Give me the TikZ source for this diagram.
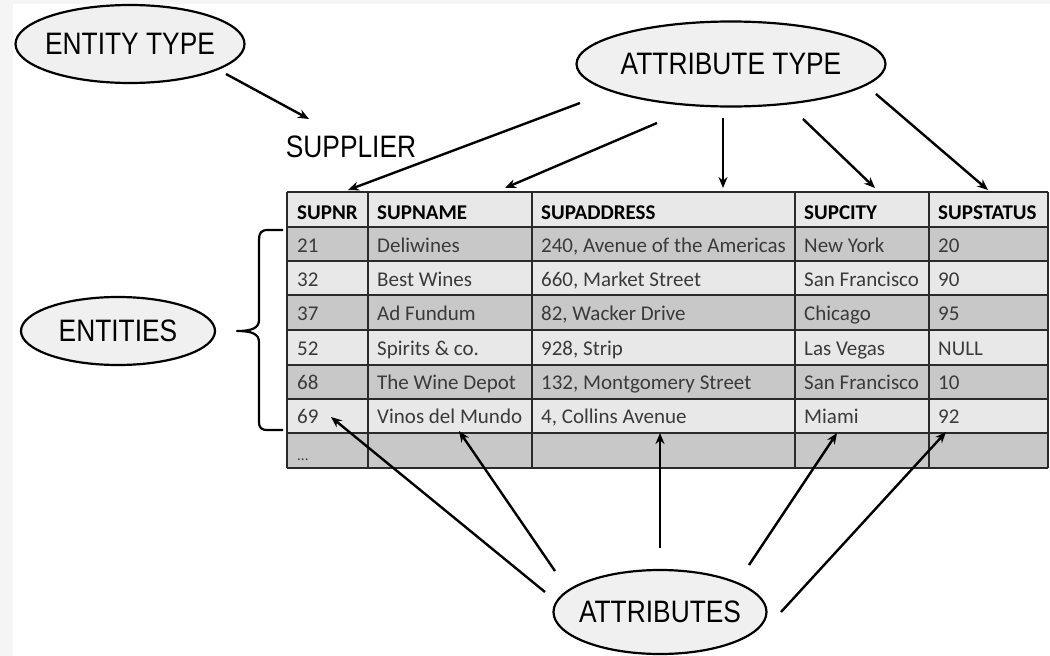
\documentclass[tikz,border=0pt]{standalone}
\usepackage{fontspec}
\setmainfont{Carlito}
\newfontfamily\labelfont[FakeStretch=0.85]{Liberation Sans}
\usetikzlibrary{shapes.geometric,arrows.meta}

\definecolor{bgstrip}{HTML}{F5F5F5}
\definecolor{ovalfill}{HTML}{F0F0F0}
\definecolor{rowdark}{HTML}{C8C8C8}
\definecolor{rowlight}{HTML}{E8E8E8}
\definecolor{cellink}{HTML}{3A3A3A}
\definecolor{gridline}{HTML}{2A2A2A}

\begin{document}
\begin{tikzpicture}[x=1pt,y=-1pt,
  oval/.style={ellipse, draw=black, line width=2.2pt, fill=ovalfill, inner sep=0pt,
               font=\labelfont\fontsize{31}{31}\selectfont},
  plain/.style={inner sep=0pt, font=\labelfont\fontsize{31}{31}\selectfont},
  conn/.style={line width=2.4pt, -{Stealth[length=11pt,width=9pt]}},
  hdr/.style={anchor=base west, inner sep=0pt, text=black,
              font=\bfseries\fontsize{21}{21}\selectfont},
  cell/.style={anchor=base west, inner sep=0pt, text=cellink,
               font=\fontsize{21}{21}\selectfont},
  gridrule/.style={draw=gridline, line width=2pt},
]
\useasboundingbox (0,0) rectangle (1050,656);
\fill[white] (0,0) rectangle (1050,656);
\fill[bgstrip] (0,0) rectangle (1050,4);
\fill[bgstrip] (0,0) rectangle (13,656);

% ---- ellipse labels ----
\node[oval, minimum width=229pt, minimum height=78pt] (entitytype) at (130,44) {\makebox[0pt]{ENTITY TYPE}};
\node[oval, minimum width=309pt, minimum height=85pt] (attrtype) at (731,64) {\makebox[0pt]{ATTRIBUTE TYPE}};
\node[oval, minimum width=194pt, minimum height=68pt] (entities) at (118,331) {\makebox[0pt]{ENTITIES}};
\node[oval, minimum width=213pt, minimum height=84pt] (attributes) at (660,612) {\makebox[0pt]{ATTRIBUTES}};
\node[plain] (supplier) at (351,147) {SUPPLIER};

% ---- table: row shading ----
\fill[rowlight] (287,192) rectangle (1048,227);
\foreach \top/\bot/\col in {227/261/rowdark, 261/295/rowlight, 295/330/rowdark,
                            330/365/rowlight, 365/399/rowdark, 399/433/rowlight,
                            433/468/rowdark}
  \fill[\col] (287,\top) rectangle (1048,\bot);

% ---- table: grid ----
\foreach \y in {192,227,261,295,330,365,399,433,468}
  \draw[gridrule] (287,\y) -- (1048,\y);
\foreach \x in {287,368,532,795,929,1048}
  \draw[gridrule] (\x,192) -- (\x,468);

% ---- table: header ----
\node[hdr] (h-1) at (297,219) {SUPNR};
\node[hdr] (h-2) at (377,219) {SUPNAME};
\node[hdr] (h-3) at (541,219) {SUPADDRESS};
\node[hdr] (h-4) at (804,219) {SUPCITY};
\node[hdr] (h-5) at (938,219) {SUPSTATUS};

% ---- table: records ----
\foreach \r/\ya/\a/\b/\c/\d/\e in {
    1/252/21/Deliwines/{240, Avenue of the Americas}/New York/20,
    2/286/32/Best Wines/{660, Market Street}/San Francisco/90,
    3/320/37/Ad Fundum/{82, Wacker Drive}/Chicago/95,
    4/355/52/Spirits \& co./{928, Strip}/Las Vegas/NULL,
    5/389/68/The Wine Depot/{132, Montgomery Street}/San Francisco/10,
    6/423/69/Vinos del Mundo/{4, Collins Avenue}/Miami/92} {
  \node[cell] (c-\r-1) at (297,\ya) {\a};
  \node[cell] (c-\r-2) at (377,\ya) {\b};
  \node[cell] (c-\r-3) at (541,\ya) {\c};
  \node[cell] (c-\r-4) at (804,\ya) {\d};
  \node[cell] (c-\r-5) at (938,\ya) {\e};
}
\node[cell, font=\fontsize{15}{15}\selectfont] (c-7-1) at (297,460) {...};

% ---- brace grouping the records ----
\draw[line width=2.2pt, line join=round]
  (283,230) -- (268,230) .. controls (261,230) and (259,233) .. (259,240)
  -- (259,320) .. controls (259,328) and (252,331) .. (237,331)
  .. controls (252,331) and (259,334) .. (259,342)
  -- (259,421) .. controls (259,428) and (261,430) .. (268,430) -- (283,430);

% ---- connector end points ----
\coordinate (et-out) at (226,74);
\coordinate (sup-in) at (309,119);
\coordinate (at-1) at (580,103);
\coordinate (at-2) at (657,123);
\coordinate (at-3) at (723,118);
\coordinate (at-4) at (803,119);
\coordinate (at-5) at (876,94);
\coordinate (hd-1) at (348,190);
\coordinate (hd-2) at (505,188);
\coordinate (hd-3) at (723,188);
\coordinate (hd-4) at (875,188);
\coordinate (hd-5) at (988,190);
\coordinate (ab-1) at (545,592);
\coordinate (ab-2) at (555,571);
\coordinate (ab-3) at (660,548);
\coordinate (ab-4) at (749,565);
\coordinate (ab-5) at (781,612);
\coordinate (rv-1) at (331,417);
\coordinate (rv-2) at (459,431);
\coordinate (rv-3) at (660,433);
\coordinate (rv-4) at (837,433);
\coordinate (rv-5) at (946,432);

% ---- connectors ----
\draw[conn] (et-out) -- (sup-in);
\foreach \i in {1,...,5} {
  \draw[conn] (at-\i) -- (hd-\i);
  \draw[conn] (ab-\i) -- (rv-\i);
}
\end{tikzpicture}
\end{document}
